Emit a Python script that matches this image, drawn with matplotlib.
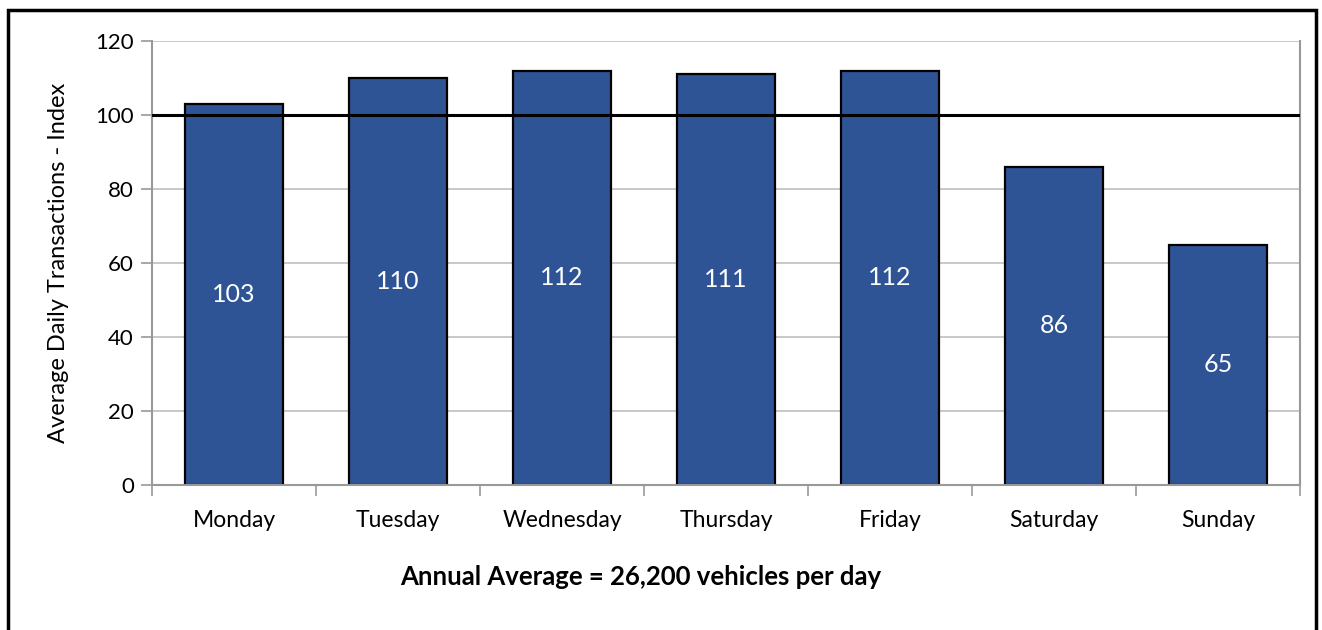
import numpy as np
import matplotlib
matplotlib.use("Agg")
import matplotlib.pyplot as plt
from matplotlib.patches import Rectangle

plt.rcParams['font.family'] = ['Lato', 'DejaVu Sans']

# Data
days = ['Monday', 'Tuesday', 'Wednesday', 'Thursday', 'Friday', 'Saturday', 'Sunday']
index_values = [103, 110, 112, 111, 112, 86, 65]
average_line = [100, 100, 100, 100, 100, 100, 100]
yticks = [0, 20, 40, 60, 80, 100, 120]

fig = plt.figure(figsize=(13.22, 6.3), dpi=100)
ax = fig.add_axes([152 / 1322, 1 - 485 / 630, (1300 - 152) / 1322, (485 - 41) / 630])

x = np.arange(len(days))
bars = ax.bar(x, index_values, width=0.6, color='#2E5496', edgecolor='black',
              linewidth=1.6, zorder=2)

for b, v in zip(bars, index_values):
    ax.text(b.get_x() + b.get_width() / 2, v / 2, str(v), ha='center', va='center',
            color='white', fontsize=18, zorder=4)

# annual average line across the whole plot
ax.plot(np.concatenate([[-0.5], x, [6.5]]),
        [average_line[0]] + average_line + [average_line[-1]],
        color='black', linewidth=2.2, zorder=3)

ax.set_xlim(-0.5, 6.5)
ax.set_ylim(0, 120)
ax.set_yticks(yticks)
ax.set_xticks(x)
ax.set_xticklabels(days, fontsize=16.5)
ax.tick_params(axis='y', labelsize=16, length=8, color='#999999', width=1.2, pad=5)
ax.tick_params(axis='x', length=0, pad=18)
# category boundary ticks
ax.set_xticks(np.arange(-0.5, 7, 1), minor=True)
ax.tick_params(axis='x', which='minor', length=8, color='#999999', width=1.2)

ax.grid(axis='y', color='#BFBFBF', linewidth=1.2, zorder=0)
ax.set_axisbelow(True)
for s in ['left', 'bottom', 'right']:
    ax.spines[s].set_color('#999999')
    ax.spines[s].set_linewidth(1.5)
ax.spines['top'].set_visible(False)

ax.set_ylabel('Average Daily Transactions - Index', fontsize=17, labelpad=19)

fig.text(641 / 1322, 1 - 577 / 630, 'Annual Average = 26,200 vehicles per day',
         ha='center', va='center', fontsize=18.5, fontweight='bold')

# outer frame
fig.patches.append(Rectangle((8 / 1322, -0.05), (1316 - 8) / 1322, 1.05 - 10 / 630,
                             transform=fig.transFigure, fill=False,
                             edgecolor='black', linewidth=2.5))

fig.savefig('out.png', dpi=100)
